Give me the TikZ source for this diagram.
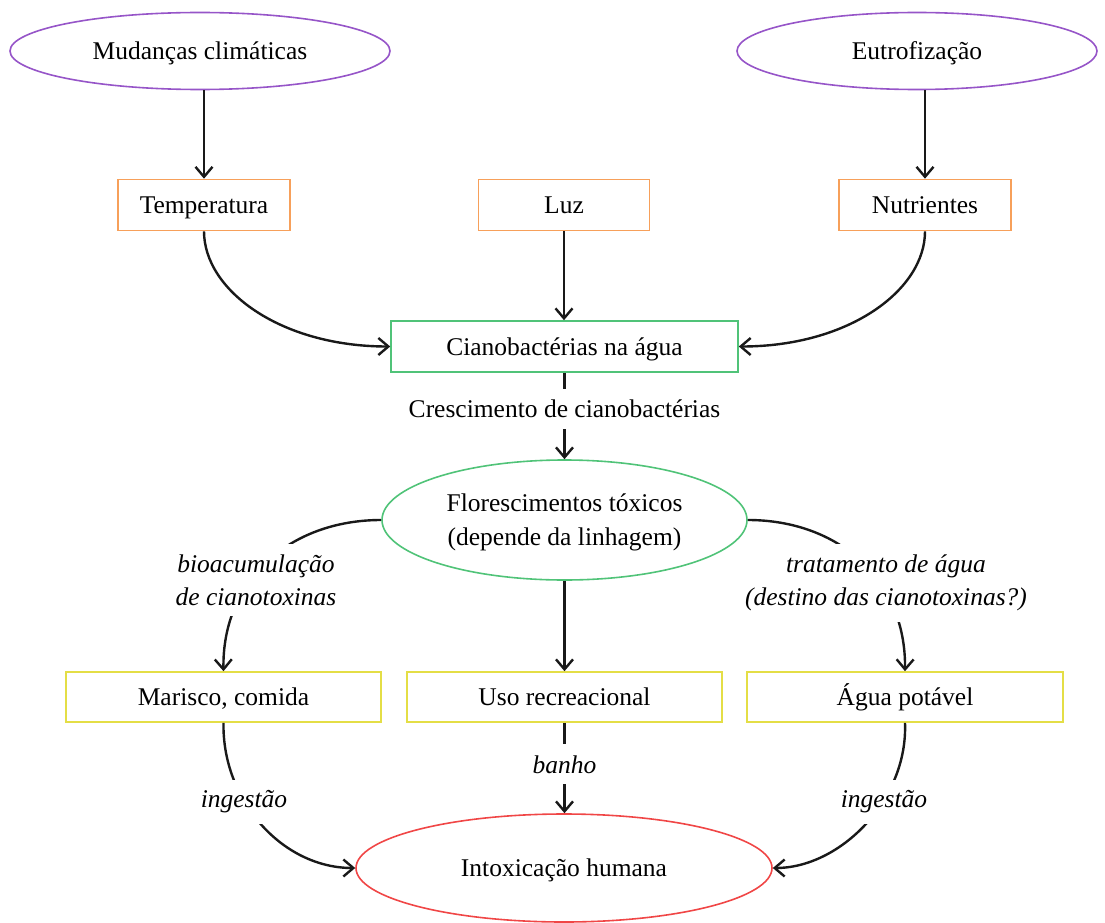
\documentclass[tikz,border=0pt]{standalone}
\usepackage{fontspec}
\setmainfont{Liberation Serif}
\usetikzlibrary{shapes.geometric,arrows.meta}
\definecolor{purp}{RGB}{150,85,200}
\definecolor{orng}{RGB}{247,160,90}
\definecolor{grn}{RGB}{80,195,120}
\definecolor{yel}{RGB}{228,222,70}
\definecolor{rd}{RGB}{240,70,70}
\definecolor{ink}{RGB}{25,25,25}
\begin{document}
\begin{tikzpicture}[x=1pt,y=-1pt,
  font=\fontsize{25.5pt}{34pt}\selectfont,
  ell/.style={ellipse, draw, line width=1.6pt, inner sep=0pt, align=center},
  one/.style={text height=17.5pt, text depth=0pt},
  boxnode/.style={rectangle, draw, line width=1.6pt, minimum height=51pt, inner sep=0pt, one},
  arr/.style={-{Straight Barb[length=10pt,width=17pt]}, line width=2.4pt, draw=ink},
  lab/.style={fill=white, inner xsep=5pt, inner ysep=11pt, align=center},
  ilab/.style={lab, font=\fontsize{25.5pt}{33pt}\selectfont\itshape}]
\useasboundingbox (0,0) rectangle (1105,923);

% nodes
\node[ell, one, draw=purp, minimum width=380pt, minimum height=77pt] (mud) at (200,51) {Mudanças climáticas};
\node[ell, one, draw=purp, minimum width=360pt, minimum height=77pt] (eut) at (917,51) {Eutrofização};

\node[boxnode, draw=orng, minimum width=172pt] (temp) at (204,205) {Temperatura};
\node[boxnode, draw=orng, minimum width=171pt] (luz) at (564,205) {Luz};
\node[boxnode, draw=orng, minimum width=172pt] (nut) at (925,205) {Nutrientes};

\node[boxnode, draw=grn, minimum width=347pt] (cian) at (564.5,346.5) {Cianobactérias na água};

\node[ell, draw=grn, text depth=0pt, minimum width=365pt, minimum height=120pt] (flor) at (564.5,520) {Florescimentos tóxicos\\(depende da linhagem)};

\node[boxnode, draw=yel, minimum width=315pt, minimum height=50pt] (mar) at (223.5,697) {Marisco, comida};
\node[boxnode, draw=yel, minimum width=315pt, minimum height=50pt] (uso) at (564.5,697) {Uso recreacional};
\node[boxnode, draw=yel, minimum width=316pt, minimum height=50pt] (agua) at (905,697) {Água potável};

\node[ell, one, draw=rd, minimum width=416pt, minimum height=108pt] (intox) at (564,868) {Intoxicação humana};

% connectors
\draw[arr] (temp.north |- mud.south) -- (temp.north);
\draw[arr] (nut.north |- eut.south) -- (nut.north);
\draw[arr] (luz.south) -- (luz.south |- cian.north);
\draw[arr] (temp.south) .. controls (204,290) and (280,346.5) .. (cian.west);
\draw[arr] (nut.south) .. controls (925,290) and (849,346.5) .. (cian.east);

\draw[arr] (cian.south) -- node[lab, pos=0.42] (cresc) {Crescimento de cianobactérias} (cian.south |- flor.north);

\draw[arr] (flor.west) .. controls (290,520) and (222,580) .. (mar.north);
\draw[arr] (flor.east) .. controls (839,520) and (906,580) .. (agua.north);
\draw[arr] (flor.south) -- (uso.north);

\draw[arr] (uso.south) -- node[ilab, pos=0.46] (banho) {banho} (uso.south |- intox.north);
\draw[arr] (mar.south) .. controls (222,800) and (282,868) .. (intox.west);
\draw[arr] (agua.south) .. controls (908,800) and (840,868) .. (intox.east);

% labels on curved connectors
\node[ilab] (bio) at (256,580) {bioacumulação\\de cianotoxinas};
\node[ilab] (trat) at (886,583) {tratamento de água\\(destino das cianotoxinas?)};
\node[ilab] (ingL) at (244,802) {ingestão};
\node[ilab] (ingR) at (884,802) {ingestão};
\end{tikzpicture}
\end{document}
